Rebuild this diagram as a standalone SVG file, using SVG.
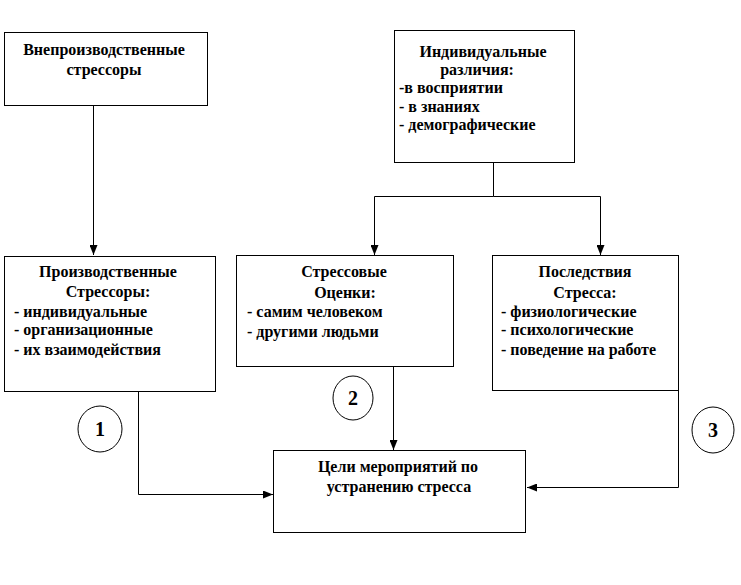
<svg xmlns="http://www.w3.org/2000/svg" width="741" height="585" viewBox="0 0 741 585" font-family="Liberation Serif, DejaVu Serif, serif">
<defs>
<marker id="arr" viewBox="0 0 10 8" refX="10" refY="4" markerWidth="10" markerHeight="8" markerUnits="userSpaceOnUse" orient="auto">
<path d="M0,0 L10,4 L0,8 Z" fill="#000"/>
</marker>
</defs>
<style>
.box{fill:#fff;stroke:#000;stroke-width:1}
.t{font-weight:bold;font-size:16px;fill:#000}
.c{text-anchor:middle}
.ln{fill:none;stroke:#000;stroke-width:1}
.num{font-weight:bold;font-size:20px;text-anchor:middle;fill:#000}
</style>
<rect width="741" height="585" fill="#fff"/>
<g id="connectors">
<path class="ln" d="M93.5,105 V255" marker-end="url(#arr)"/>
<path class="ln" d="M493.5,162 V196.5 H374.5 V255" marker-end="url(#arr)"/>
<path class="ln" d="M493.5,196.5 H600.5 V255" marker-end="url(#arr)"/>
<path class="ln" d="M138.5,391 V494.5 H273" marker-end="url(#arr)"/>
<path class="ln" d="M393.5,366 V450" marker-end="url(#arr)"/>
<path class="ln" d="M678.5,390 V487.5 H527" marker-end="url(#arr)"/>
</g>
<g id="n-vne">
<rect class="box" x="4.5" y="32.5" width="203" height="73"/>
<text class="t c" x="104" y="55">Внепроизводственные</text>
<text class="t c" x="104" y="75">стрессоры</text>
</g>
<g id="n-ind">
<rect class="box" x="394.5" y="30.5" width="180" height="132"/>
<text class="t c" x="483" y="57">Индивидуальные</text>
<text class="t c" x="477" y="75">различия:</text>
<text class="t" x="399" y="93">-в восприятии</text>
<text class="t" x="399" y="112">- в знаниях</text>
<text class="t" x="399" y="130">- демографические</text>
</g>
<g id="n-proizv">
<rect class="box" x="4.5" y="256.5" width="211" height="135"/>
<text class="t c" x="108" y="277">Производственные</text>
<text class="t c" x="108" y="297">Стрессоры:</text>
<text class="t" x="14" y="317">- индивидуальные</text>
<text class="t" x="14" y="335">- организационные</text>
<text class="t" x="14" y="355">- их взаимодействия</text>
</g>
<g id="n-ocenki">
<rect class="box" x="236.5" y="255.5" width="217" height="111"/>
<text class="t c" x="344" y="277">Стрессовые</text>
<text class="t c" x="345" y="298">Оценки:</text>
<text class="t" x="247" y="317">- самим человеком</text>
<text class="t" x="247" y="337">- другими людьми</text>
</g>
<g id="n-posl">
<rect class="box" x="492.5" y="255.5" width="186" height="135"/>
<text class="t c" x="585" y="277">Последствия</text>
<text class="t c" x="585" y="298">Стресса:</text>
<text class="t" x="501" y="317">- физиологические</text>
<text class="t" x="501" y="335">- психологические</text>
<text class="t" x="501" y="355">- поведение на работе</text>
</g>
<g id="n-celi">
<rect class="box" x="273.5" y="450.5" width="252" height="82"/>
<text class="t c" x="398" y="472">Цели мероприятий по</text>
<text class="t c" x="399" y="492">устранению стресса</text>
</g>
<g id="n-1">
<ellipse cx="100" cy="429" rx="22" ry="23" fill="#fff" stroke="#000"/>
<text class="num" x="100" y="436">1</text>
</g>
<g id="n-2">
<ellipse cx="353" cy="398" rx="20" ry="22" fill="#fff" stroke="#000"/>
<text class="num" x="353" y="405">2</text>
</g>
<g id="n-3">
<ellipse cx="713" cy="430" rx="21" ry="23" fill="#fff" stroke="#000"/>
<text class="num" x="713" y="437">3</text>
</g>
</svg>
